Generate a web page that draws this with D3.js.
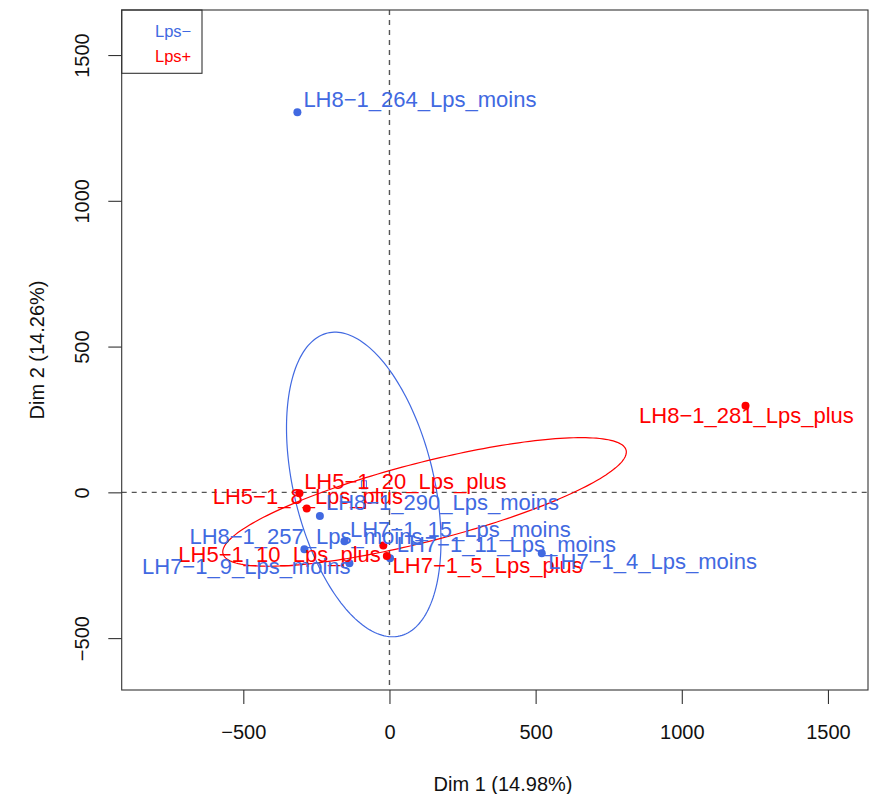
<!DOCTYPE html>
<html>
<head>
<meta charset="utf-8">
<script src="https://cdn.jsdelivr.net/npm/d3@7"></script>
<style>
    body { margin: 0; background: #fff; }
    svg { font-family: "Liberation Sans", Arial, Helvetica, sans-serif; }
    .box, .legend-box { fill: none; stroke: #333; stroke-width: 1.1; }
    .zero { stroke: #555; stroke-width: 1.4; stroke-dasharray: 5,5; }
    .axis path { display: none; }
    .axis line { stroke: #333; stroke-width: 1.1; }
    .axis text { font-size: 20px; fill: #111; }
    .title { font-size: 20px; fill: #111; }
    .ellipse { fill: none; stroke-width: 1.2; }
    .lab { font-size: 22px; }
    .legend text { font-size: 16.5px; }
</style>
</head>
<body>
<svg id="chart" width="871" height="794"></svg>
<script>
// individuals of the PCA map
var names = [
    "LH8-1_264_Lps_moins", "LH8-1_281_Lps_plus", "LH5-1_20_Lps_plus", "LH5-1_8_Lps_plus",
    "LH8-1_290_Lps_moins", "LH7-1_15_Lps_moins", "LH8-1_257_Lps_moins", "LH7-1_11_Lps_moins",
    "LH5-1_10_Lps_plus", "LH7-1_5_Lps_plus", "LH7-1_4_Lps_moins", "LH7-1_9_Lps_moins"
];
var groups = ["Lps-", "Lps+", "Lps+", "Lps+", "Lps-", "Lps-", "Lps-", "Lps-", "Lps+", "Lps+", "Lps-", "Lps-"];
var dim1 = [-315, 1218, -308, -283, -238, -154, -291, 2, -21, -9, 521, -137];
var dim2 = [1304, 297, -3, -55, -81, -168, -195, -226, -182, -218, -209, -243];

var levels = ["Lps-", "Lps+"];
// confidence ellipses: centre, semi axes, angle of major axis (deg)
var ellCx = [-88, 120];
var ellCy = [27, -33];
var ellA = [534, 712];
var ellB = [240, 135];
var ellAngle = [103.4, 14.45];

var xTicks = [-500, 0, 500, 1000, 1500];
var yTicks = [-500, 0, 500, 1000, 1500];
var xTitle = "Dim 1 (14.98%)";
var yTitle = "Dim 2 (14.26%)";

// label placement (px from the point: left edge, baseline), like autoLab did it
var labelShift = [
    [6, -5.6], [-106.4, 17.6], [4.7, -4], [-94, -4.3],
    [6, -6], [5.5, -4.6], [-115, -4.7], [6.7, -6],
    [-205, 16.4], [5.7, 17.5], [6.6, 16], [-207.4, 11.2]
];

var colors = {"Lps-": "#4169E1", "Lps+": "#FF0000"};

function minus(s) { return s.replace(/-/g, "\u2212"); }

var svg = d3.select("#chart")
    , margin = {top: 10, right: 3, bottom: 104, left: 121.7}
    , W = +svg.attr("width")
    , H = +svg.attr("height")
    ;

var x = d3.scaleLinear().domain([-916, 1637]).range([margin.left, W - margin.right]);
var y = d3.scaleLinear().domain([-678, 1654.5]).range([H - margin.bottom, margin.top]);

svg.append("rect").attr("width", W).attr("height", H).attr("fill", "#fff");

// dashed zero lines
svg.append("line").attr("class", "zero")
    .attr("x1", x(0)).attr("x2", x(0))
    .attr("y1", y.range()[1]).attr("y2", y.range()[0]);
svg.append("line").attr("class", "zero")
    .attr("x1", x.range()[0]).attr("x2", x.range()[1])
    .attr("y1", y(0)).attr("y2", y(0));

// ellipses
var line = d3.line()
    .x(function(d) { return x(d[0]); })
    .y(function(d) { return y(d[1]); });

levels.forEach(function(lev, i) {
    var th = ellAngle[i] * Math.PI / 180;
    var pts = d3.range(0, 201).map(function(k) {
        var t = k / 200 * 2 * Math.PI;
        return [
            ellCx[i] + ellA[i] * Math.cos(th) * Math.cos(t) - ellB[i] * Math.sin(th) * Math.sin(t),
            ellCy[i] + ellA[i] * Math.sin(th) * Math.cos(t) + ellB[i] * Math.cos(th) * Math.sin(t)
        ];
    });
    svg.append("path")
        .attr("class", "ellipse")
        .attr("stroke", colors[lev])
        .attr("d", line(pts));
});

// barycentre of Lps- (small square)
var blueIdx = d3.range(names.length).filter(function(i) { return groups[i] == "Lps-"; });
var bx = d3.mean(blueIdx, function(i) { return dim1[i]; })
    , by = d3.mean(blueIdx, function(i) { return dim2[i]; });
svg.append("rect")
    .attr("x", x(bx) - 2.5).attr("y", y(by) - 4)
    .attr("width", 5).attr("height", 8)
    .attr("fill", "none")
    .attr("stroke", colors["Lps-"])
    .attr("stroke-width", 1);

// points
svg.append("g").selectAll("circle")
    .data(names)
    .enter().append("circle")
    .attr("cx", function(d, i) { return x(dim1[i]); })
    .attr("cy", function(d, i) { return y(dim2[i]); })
    .attr("r", 4)
    .attr("fill", function(d, i) { return colors[groups[i]]; });

// labels
svg.append("g").selectAll("text")
    .data(names)
    .enter().append("text")
    .attr("class", "lab")
    .attr("x", function(d, i) { return x(dim1[i]) + labelShift[i][0]; })
    .attr("y", function(d, i) { return y(dim2[i]) + labelShift[i][1]; })
    .attr("fill", function(d, i) { return colors[groups[i]]; })
    .text(function(d) { return minus(d); });

// axes
var xAxis = svg.append("g")
    .attr("class", "axis")
    .attr("transform", "translate(0," + y.range()[0] + ")")
    .call(d3.axisBottom(x).tickValues(xTicks).tickFormat(d3.format("d")).tickSize(14).tickPadding(35));
xAxis.selectAll("text").attr("dy", 0);

var yAxis = svg.append("g")
    .attr("class", "axis")
    .attr("transform", "translate(" + x.range()[0] + ",0)")
    .call(d3.axisLeft(y).tickValues(yTicks).tickFormat(d3.format("d")).tickSize(13.4));
yAxis.selectAll("text")
    .attr("x", null).attr("dy", null)
    .attr("text-anchor", "middle")
    .attr("transform", function(d) { return "translate(" + (89 - x.range()[0]) + ",0) rotate(-90)"; });

// plot frame
svg.append("rect").attr("class", "box")
    .attr("x", x.range()[0]).attr("y", y.range()[1])
    .attr("width", x.range()[1] - x.range()[0])
    .attr("height", y.range()[0] - y.range()[1]);

svg.append("text").attr("class", "title")
    .attr("x", 503).attr("y", 790.5)
    .attr("text-anchor", "middle")
    .text(xTitle);

svg.append("text").attr("class", "title")
    .attr("transform", "translate(43.5," + ((y.range()[0] + y.range()[1]) / 2) + ") rotate(-90)")
    .attr("text-anchor", "middle")
    .text(yTitle);

// legend
var legend = svg.append("g").attr("class", "legend");
legend.append("rect").attr("class", "legend-box")
    .attr("x", x.range()[0]).attr("y", y.range()[1])
    .attr("width", 80.3).attr("height", 63.3)
    .attr("fill", "#fff");
legend.selectAll("text")
    .data(levels)
    .enter().append("text")
    .attr("x", 155)
    .attr("y", function(d, i) { return 37.3 + i * 24.4; })
    .attr("fill", function(d) { return colors[d]; })
    .text(function(d) { return minus(d); });
</script>
</body>
</html>
